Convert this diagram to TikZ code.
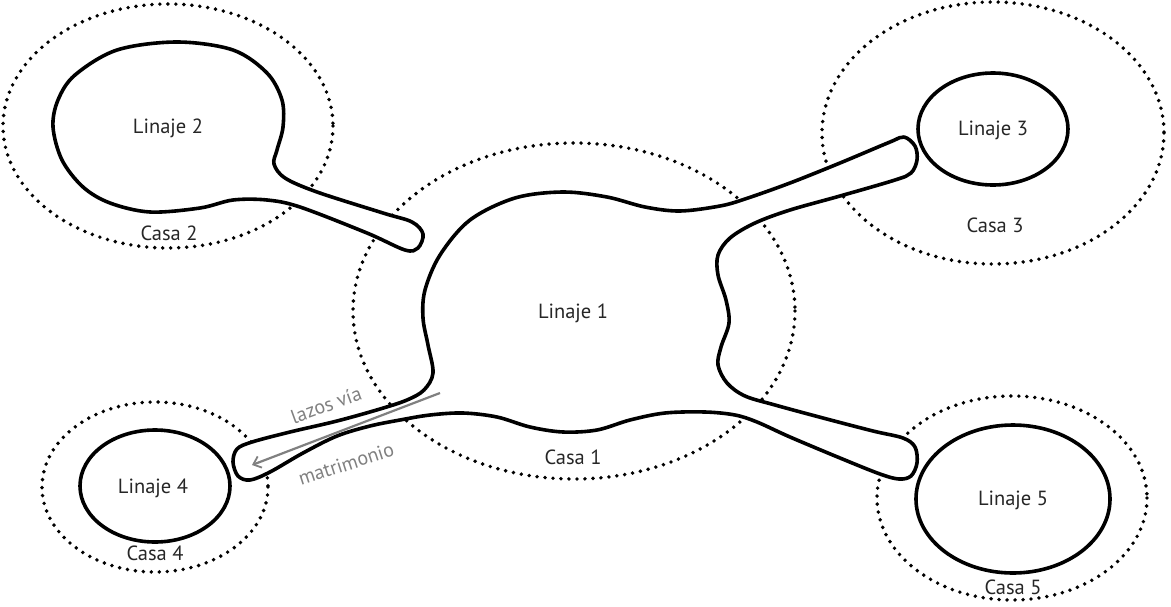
\documentclass[tikz,border=0pt]{standalone}
\usepackage{fontspec}
\setmainfont{PT Sans}
\usetikzlibrary{arrows.meta}
\begin{document}
\begin{tikzpicture}[x=1pt,y=-1pt,
  casa/.style={line width=3.9pt, dash pattern=on 0pt off 8pt, line cap=round},
  linaje/.style={line width=3.6pt, fill=white, line join=round},
  lbl/.style={font=\fontsize{20.5}{24}\selectfont, inner sep=0pt, text=black!85},
  glbl/.style={font=\fontsize{20}{24}\selectfont, inner sep=0pt, text=black!50},
  lazo/.style={draw=black!50, line width=2.2pt, -{Straight Barb[length=7pt,width=12pt,line width=1.8pt]}},
]
\useasboundingbox (0,0) rectangle (1171,606);
% Casas (dotted)
\draw[casa] (574,311) ellipse [x radius=221, y radius=168];
\draw[casa] (168,126) ellipse [x radius=165, y radius=122];
\draw[casa] (993,133) ellipse [x radius=171, y radius=131];
\draw[casa] (155,487) ellipse [x radius=113, y radius=85];
\draw[casa] (1012,498) ellipse [x radius=135, y radius=102];
% Linaje 1 with tendrils
\draw[linaje] plot[smooth cycle, tension=0.55] coordinates {
 (433,373) (428,345) (423,318) (425,290) (440,255) (470,220) (515,198) (563,192)
 (607,197) (645,207) (680,211) (720,206) (745,199) (790,183) (840,163) (890,142)
 (904,137) (915,146) (917,160) (911,173) (895,180) (840,196) (790,210) (755,223)
 (730,238) (718,255) (718,275) (726,300) (729,323) (721,347) (718,365) (727,383)
 (745,396) (775,405) (823,418) (873,431) (903,438) (915,447) (917,463) (911,476)
 (899,479) (880,474) (840,458) (790,437) (757,422) (735,415) (705,412) (665,413)
 (630,420) (597,430) (563,432) (530,427) (497,417) (463,413) (430,415) (400,420)
 (370,426) (337,436) (303,453) (270,472) (250,480) (238,476) (233,462) (237,449)
 (252,442) (290,432) (337,421) (380,409) (407,400) (424,390)};
% Linaje 2 with stick
\draw[linaje] plot[smooth cycle, tension=0.55] coordinates {
 (177,42) (233,50) (267,73) (282,100) (283,127) (277,150) (274,164) (285,178)
 (317,192) (383,213) (412,222) (423,234) (418,248) (405,250) (367,233) (300,207)
 (267,200) (233,200) (200,208) (150,212) (110,203) (83,187) (62,160) (53,127)
 (58,100) (75,75) (117,50)};
% other Linajes
\draw[linaje] (993,129) ellipse [x radius=75, y radius=56];
\draw[linaje] (155,486) ellipse [x radius=75, y radius=56];
\draw[linaje] (1013,499) ellipse [x radius=97, y radius=74];
% labels
\node[lbl] (l1) at (573,313) {Linaje 1};
\node[lbl] (c1) at (573,457) {Casa 1};
\node[lbl] (l2) at (168,128) {Linaje 2};
\node[lbl] (c2) at (169,233) {Casa 2};
\node[lbl] (l3) at (993,130) {Linaje 3};
\node[lbl] (c3) at (995,225) {Casa 3};
\node[lbl] (l4) at (153,488) {Linaje 4};
\node[lbl] (c4) at (155,553) {Casa 4};
\node[lbl] (l5) at (1013,500) {Linaje 5};
\node[lbl] (c5) at (1013,587) {Casa 5};
% lazos via matrimonio
\coordinate (arrS) at (440,393);
\coordinate (arrE) at (252,465);
\draw[lazo] (arrS) -- (arrE);
\node[glbl, rotate=20] (lz) at (326,405) {lazos vía};
\node[glbl, rotate=18] (mt) at (346,464) {matrimonio};
\end{tikzpicture}
\end{document}
